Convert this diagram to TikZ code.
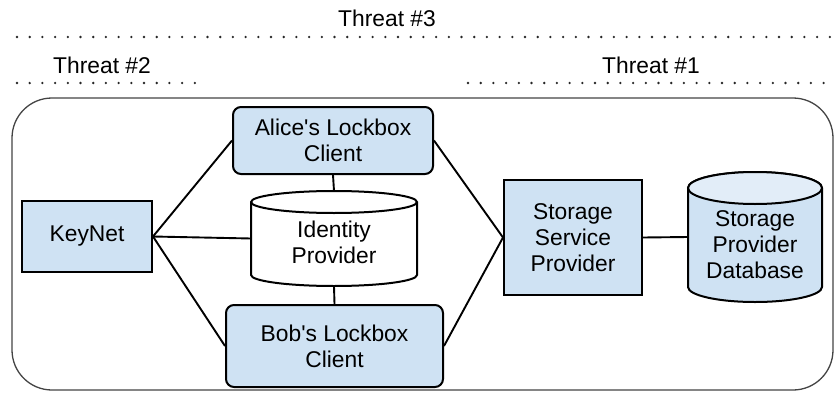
\documentclass[tikz,border=0pt]{standalone}
\usepackage{fontspec}
\setmainfont{Liberation Sans}
\definecolor{boxblue}{HTML}{CFE2F3}
\definecolor{toplight}{HTML}{E2EDF8}
\definecolor{outergray}{HTML}{444444}
\begin{document}
\begin{tikzpicture}[x=1pt,y=1pt,
  lbl/.style={font=\fontsize{22.8}{26}\selectfont, align=center, inner sep=0pt},
  bluebox/.style={draw=black, line width=2pt, fill=boxblue, lbl},
  roundbox/.style={bluebox, rounded corners=8pt},
  ghost/.style={inner sep=0pt, outer sep=0pt},
  conn/.style={line width=1.9pt, black},
  dots/.style={line width=2.6pt, line cap=round, dash pattern=on 0pt off 12.7pt, black!85}
]
\useasboundingbox (0,0) rectangle (835,392);

% threat labels and dotted lines
\node[lbl] (t3) at (387,374) {Threat \#3};
\node[lbl] (t2) at (102,327) {Threat \#2};
\node[lbl] (t1) at (651,327) {Threat \#1};
\coordinate (d3a) at (17,355); \coordinate (d3b) at (835,355);
\coordinate (d2a) at (17,309); \coordinate (d2b) at (197,309);
\coordinate (d1a) at (468,309); \coordinate (d1b) at (835,309);
\draw[dots] (d3a) -- (d3b);
\draw[dots] (d2a) -- (d2b);
\draw[dots] (d1a) -- (d1b);

% outer boundary
\draw[outergray, line width=1.3pt, rounded corners=40pt] (12,2) rectangle (833,294);

% boxes
\node[roundbox, minimum width=200pt, minimum height=67pt] (alice) at (333,251.5) {Alice\textquotesingle s Lockbox\\Client};
\node[roundbox, minimum width=217pt, minimum height=82pt] (bob) at (334.5,46) {Bob\textquotesingle s Lockbox\\Client};
\node[bluebox, minimum width=130pt, minimum height=71pt] (keynet) at (87,155.5) {KeyNet};
\node[bluebox, minimum width=138pt, minimum height=115pt] (ssp) at (573,154.5) {Storage\\Service\\Provider};

% identity provider cylinder
\draw[line width=2pt, fill=white] (251,190) -- (251,117)
  arc[start angle=180, end angle=360, x radius=83pt, y radius=11pt] -- (417,190)
  arc[start angle=0, end angle=180, x radius=83pt, y radius=11pt] -- cycle;
\draw[line width=2pt] (251,190) arc[start angle=180, end angle=360, x radius=83pt, y radius=11pt];
\node[ghost, minimum width=166pt, minimum height=95pt] (idp) at (334,153.5) {};
\node[lbl] (idptext) at (334,149.5) {Identity\\Provider};

% storage provider database cylinder
\draw[line width=2pt, fill=boxblue] (688,204) -- (688,105)
  arc[start angle=180, end angle=360, x radius=67pt, y radius=15pt] -- (822,204)
  arc[start angle=0, end angle=180, x radius=67pt, y radius=16pt] -- cycle;
\draw[line width=2pt, fill=toplight] (755,204) ellipse[x radius=67pt, y radius=16pt];
\node[ghost, minimum width=134pt, minimum height=130pt] (db) at (755,155) {};
\node[lbl] (dbtext) at (755,147) {Storage\\Provider\\Database};

% connectors
\draw[conn] (keynet.east) -- (alice.west);
\draw[conn] (keynet.east) -- (idp.west);
\draw[conn] (keynet.east) -- (bob.west);
\draw[conn] (alice.south) -- (idp.north);
\draw[conn] (idp.south) -- (bob.north);
\draw[conn] (alice.east) -- (ssp.west);
\draw[conn] (bob.east) -- (ssp.west);
\draw[conn] (ssp.east) -- (db.west);
\end{tikzpicture}
\end{document}
